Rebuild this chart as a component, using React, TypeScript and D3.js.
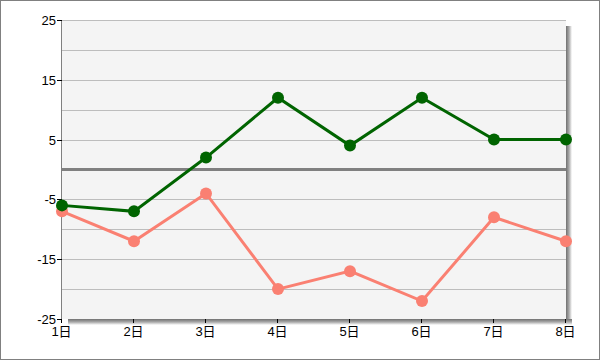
import * as d3 from 'd3';

const days = ['1日', '2日', '3日', '4日', '5日', '6日', '7日', '8日'];
const greenValues = [-6, -7, 2, 12, 4, 12, 5, 5];
const salmonValues = [-7, -12, -4, -20, -17, -22, -8, -12];
const yTickLabels = [25, 15, 5, -5, -15, -25];
const gridValues = [25, 20, 15, 10, 5, -5, -10, -15, -20];

const W = 600;
const H = 360;
const margin = { top: 20, right: 34, bottom: 41, left: 62 };
const FONT = '"Liberation Sans", "Noto Sans CJK JP", sans-serif';

export default function App() {
  const innerW = W - margin.left - margin.right;
  const innerH = H - margin.top - margin.bottom;

  const x = d3.scalePoint<string>().domain(days).range([0, innerW]);
  const y = d3.scaleLinear().domain([-25, 25]).range([innerH, 0]);

  const line = d3
    .line<number>()
    .x((_, i) => x(days[i]) ?? 0)
    .y((d) => y(d));

  const series = [
    { values: salmonValues, color: '#fa8072' },
    { values: greenValues, color: '#006400' },
  ];

  return (
    <svg
      width={W}
      height={H}
      style={{ position: 'absolute', left: 0, top: 0, display: 'block', background: '#fff' }}
    >
      <defs>
        <linearGradient id="shR" x1="0" x2="1" y1="0" y2="0">
          <stop offset="0" stopColor="#707070" />
          <stop offset="0.5" stopColor="#a8a8a8" />
          <stop offset="1" stopColor="#ffffff" />
        </linearGradient>
        <linearGradient id="shB" x1="0" x2="0" y1="0" y2="1">
          <stop offset="0" stopColor="#707070" />
          <stop offset="0.5" stopColor="#a8a8a8" />
          <stop offset="1" stopColor="#ffffff" />
        </linearGradient>
      </defs>
      <rect x={0.5} y={0.5} width={W - 1} height={H - 1} fill="#fff" stroke="#808080" />
      <g transform={`translate(${margin.left},${margin.top})`}>
        {/* shadow */}
        <rect x={innerW} y={6} width={6} height={innerH} fill="url(#shR)" />
        <rect x={6} y={innerH} width={innerW} height={6} fill="url(#shB)" />
        <rect x={0} y={0} width={innerW} height={innerH} fill="#f4f4f4" />

        {/* grid */}
        {gridValues.map((v) => (
          <line
            key={v}
            x1={0}
            x2={innerW}
            y1={Math.round(y(v)) + 0.5}
            y2={Math.round(y(v)) + 0.5}
            stroke="#bdbdbd"
            strokeWidth={1}
          />
        ))}
        <line x1={0} x2={innerW} y1={y(0)} y2={y(0)} stroke="#808080" strokeWidth={3} />

        {/* y axis */}
        <line x1={-0.5} x2={-0.5} y1={0} y2={innerH} stroke="#808080" />
        {yTickLabels.map((v) => (
          <g key={v} transform={`translate(0,${Math.round(y(v)) + 0.5})`}>
            <line x1={-5} x2={0} stroke="#000" />
            <text
              x={-6}
              dy="0.35em"
              textAnchor="end"
              fontFamily={FONT}
              fontSize={13}
              fill="#000"
            >
              {v}
            </text>
          </g>
        ))}

        {/* x axis */}
        {days.map((d) => (
          <g key={d} transform={`translate(${Math.round(x(d) ?? 0) - 0.5},${innerH})`}>
            <line y1={0} y2={4} stroke="#000" />
            <text y={17} textAnchor="middle" fontFamily={FONT} fontSize={13} fill="#000">
              {d}
            </text>
          </g>
        ))}

        {/* series */}
        {series.map((s) => (
          <g key={s.color}>
            <path d={line(s.values) ?? ''} fill="none" stroke={s.color} strokeWidth={3} />
            {s.values.map((v, i) => (
              <circle key={i} cx={x(days[i]) ?? 0} cy={y(v)} r={6} fill={s.color} />
            ))}
          </g>
        ))}
      </g>
    </svg>
  );
}
